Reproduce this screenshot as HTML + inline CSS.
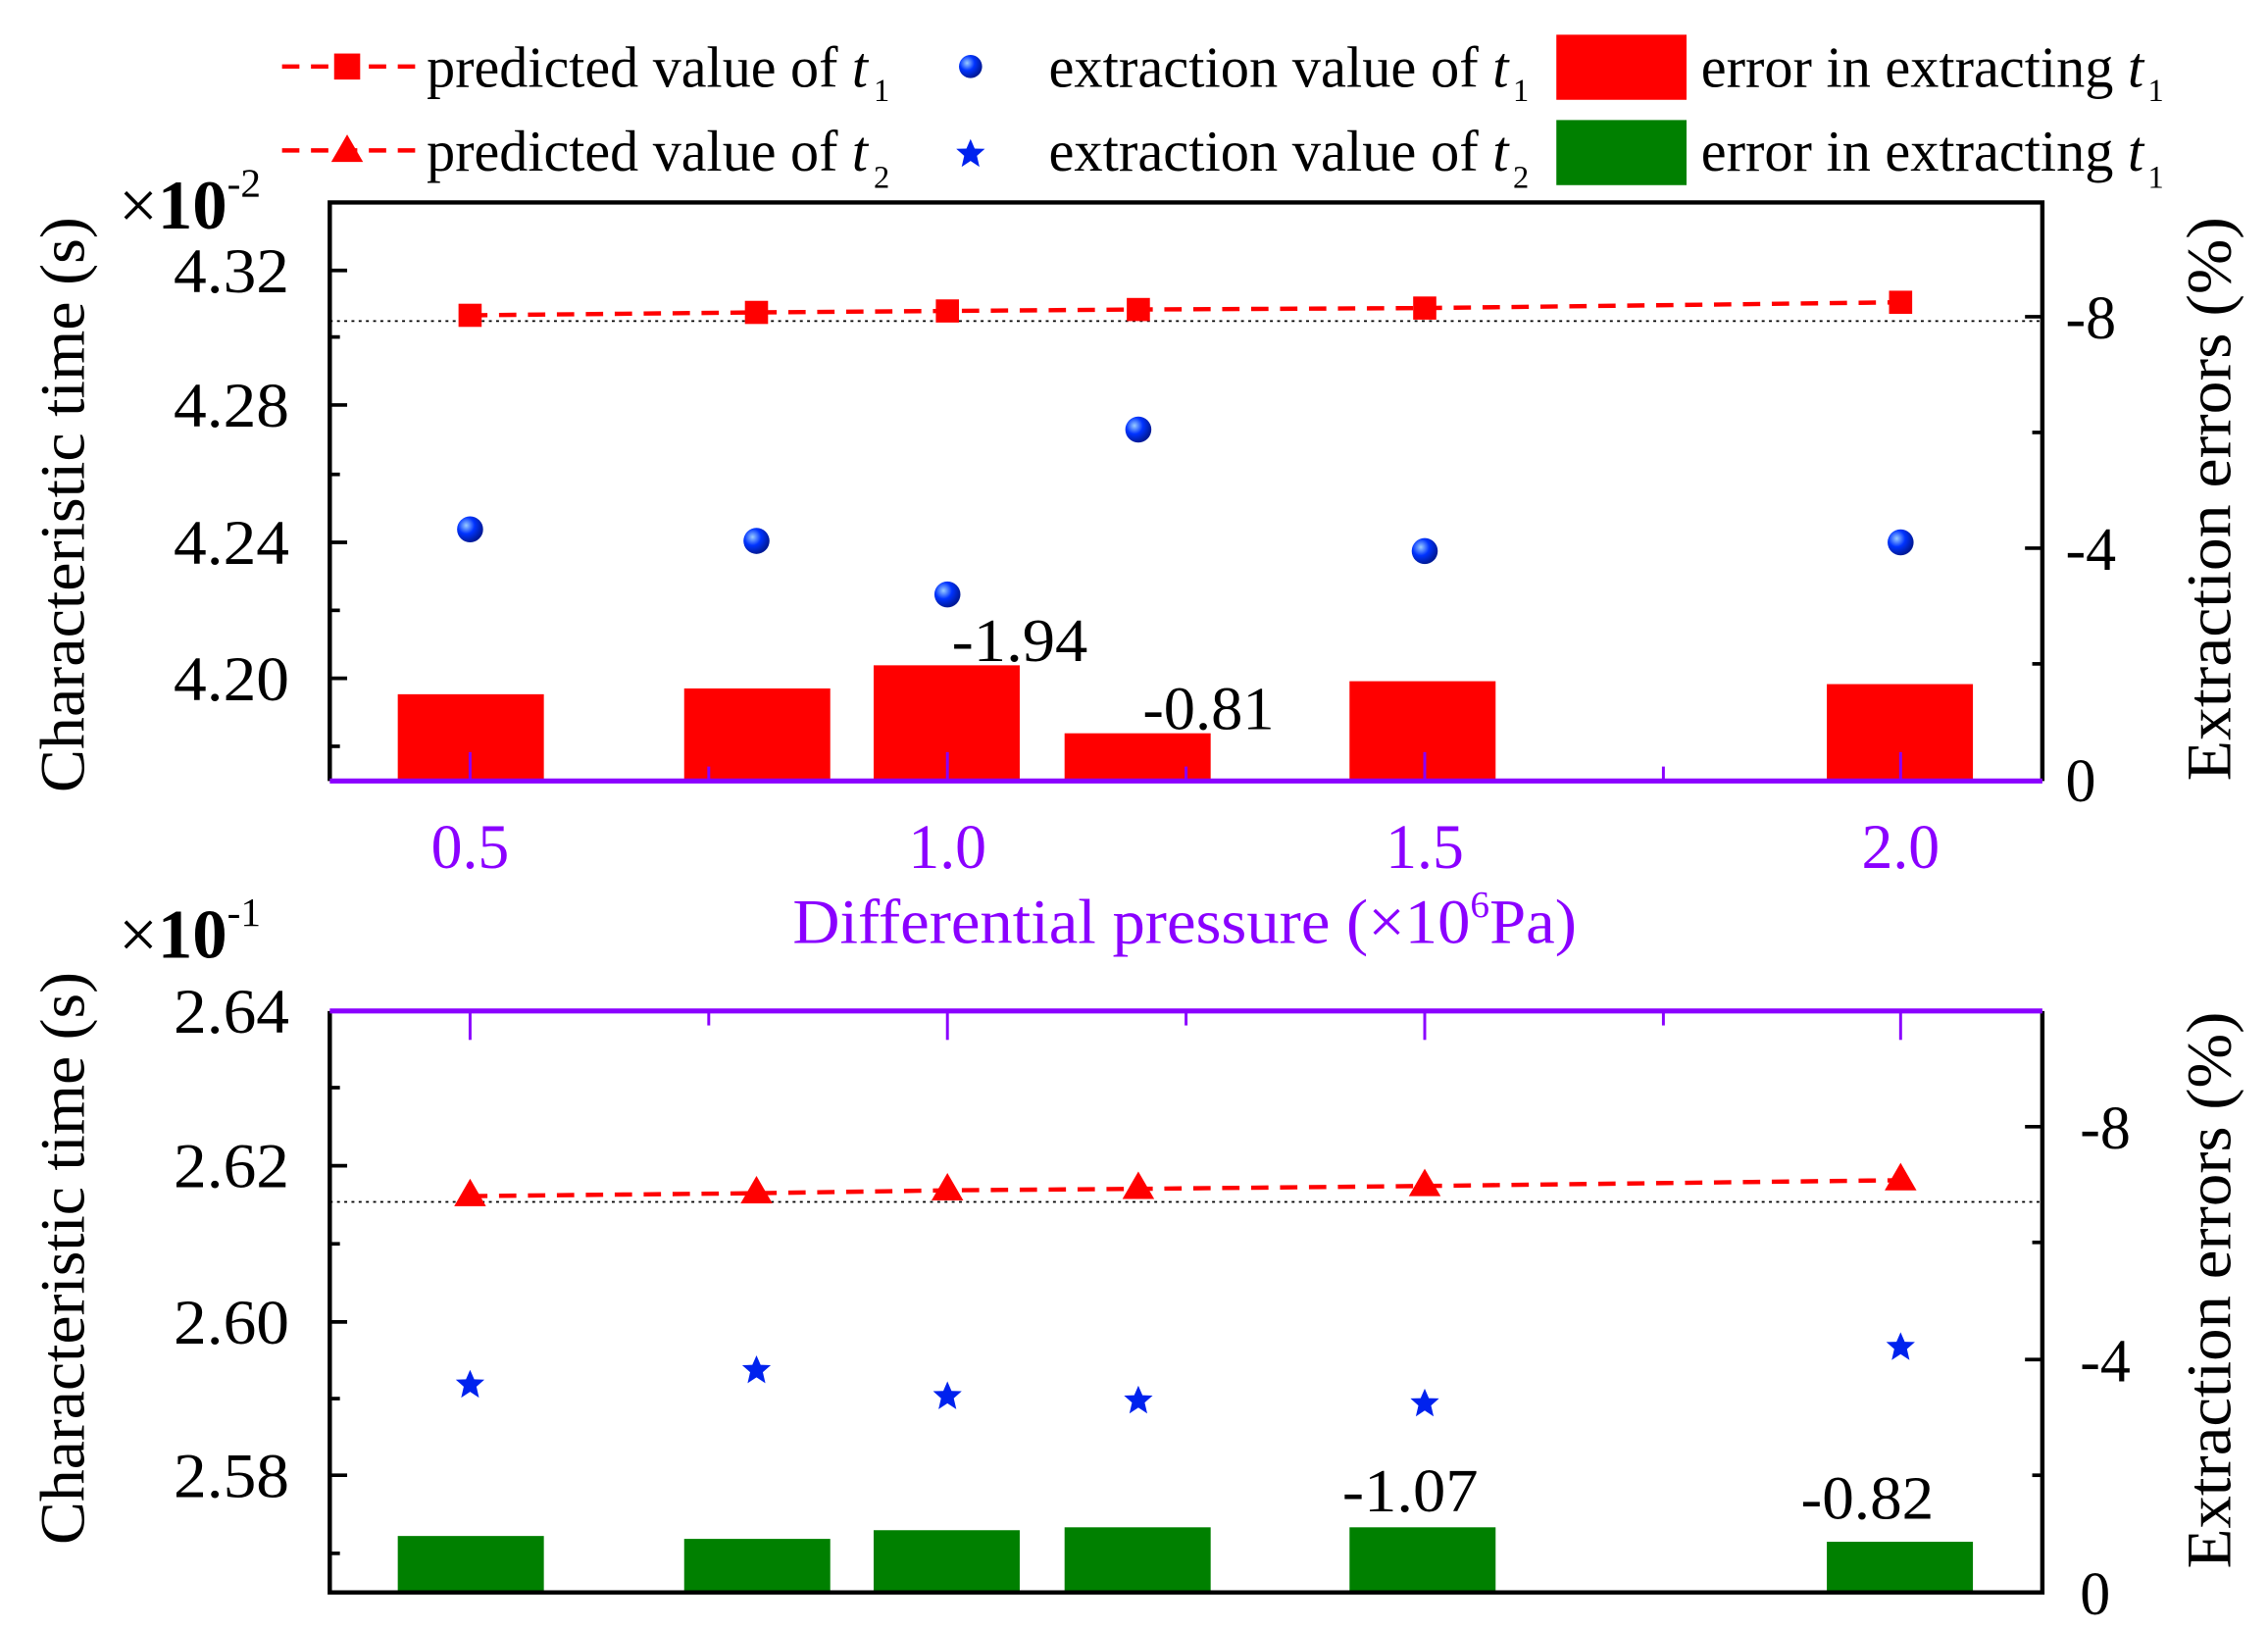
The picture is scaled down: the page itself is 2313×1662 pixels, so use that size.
<!DOCTYPE html>
<html><head><meta charset="utf-8"><style>
html,body{margin:0;padding:0;background:#fff;}
svg{display:block;}
text{font-family:"Liberation Serif",serif;}
</style></head><body>
<svg width="2313" height="1662" viewBox="0 0 1568 1127" preserveAspectRatio="none" xmlns="http://www.w3.org/2000/svg">
<defs>
<radialGradient id="g" cx="35%" cy="35%" r="65%"><stop offset="0" stop-color="#9cf"/><stop offset="0.5" stop-color="#0033ff"/><stop offset="1" stop-color="#001a99"/></radialGradient>
<symbol id="star" viewBox="-10 -10 20 20"><polygon points="0,-9 2.6,-3 9,-2.8 4,1.6 5.6,8.5 0,4.8 -5.6,8.5 -4,1.6 -9,-2.8 -2.6,-3" fill="#0022ee"/></symbol>
</defs>
<!-- Legend -->
<g font-size="40" fill="#000">
<line x1="195" y1="46" x2="288" y2="46" stroke="#f00" stroke-width="3" stroke-dasharray="12,8"/>
<rect x="231" y="37" width="18" height="18" fill="#f00"/>
<text x="295" y="60" textLength="305" lengthAdjust="spacingAndGlyphs">predicted value of <tspan font-style="italic">t</tspan></text>
<text x="604" y="70" font-size="22">1</text>
<circle cx="671" cy="46" r="8" fill="url(#g)"/>
<text x="725" y="60" textLength="318" lengthAdjust="spacingAndGlyphs">extraction value of <tspan font-style="italic">t</tspan></text>
<text x="1046" y="70" font-size="22">1</text>
<rect x="1076" y="24" width="90" height="45" fill="#f00"/>
<text x="1176" y="60" textLength="306" lengthAdjust="spacingAndGlyphs">error in extracting <tspan font-style="italic">t</tspan></text>
<text x="1485" y="70" font-size="22">1</text>
<line x1="195" y1="104" x2="288" y2="104" stroke="#f00" stroke-width="3" stroke-dasharray="12,8"/>
<polygon points="240,93 251,112 229,112" fill="#f00"/>
<text x="295" y="118" textLength="305" lengthAdjust="spacingAndGlyphs">predicted value of <tspan font-style="italic">t</tspan></text>
<text x="604" y="130" font-size="22">2</text>
<use href="#star" x="660" y="95" width="22" height="22"/>
<text x="725" y="118" textLength="318" lengthAdjust="spacingAndGlyphs">extraction value of <tspan font-style="italic">t</tspan></text>
<text x="1046" y="130" font-size="22">2</text>
<rect x="1076" y="83" width="90" height="45" fill="#008000"/>
<text x="1176" y="118" textLength="306" lengthAdjust="spacingAndGlyphs">error in extracting <tspan font-style="italic">t</tspan></text>
<text x="1485" y="130" font-size="22">1</text>
</g>

<!-- TOP PLOT -->
<g>
<rect x="275" y="480" width="101" height="60" fill="#f00"/>
<rect x="473" y="476" width="101" height="64" fill="#f00"/>
<rect x="604" y="460" width="101" height="80" fill="#f00"/>
<rect x="736" y="507" width="101" height="33" fill="#f00"/>
<rect x="933" y="471" width="101" height="69" fill="#f00"/>
<rect x="1263" y="473" width="101" height="67" fill="#f00"/>
<line x1="228" y1="222" x2="1412" y2="222" stroke="#000" stroke-width="1.2" stroke-dasharray="2,3"/>
<polyline points="325,218 523,216 655,215 787,214 985,213 1314,209" fill="none" stroke="#f00" stroke-width="3" stroke-dasharray="12,8"/>
<g fill="#f00">
<rect x="317" y="210" width="16" height="16"/><rect x="515" y="208" width="16" height="16"/><rect x="647" y="207" width="16" height="16"/><rect x="779" y="206" width="16" height="16"/><rect x="977" y="205" width="16" height="16"/><rect x="1306" y="201" width="16" height="16"/>
</g>
<g fill="url(#g)">
<circle cx="325" cy="366" r="9"/><circle cx="523" cy="374" r="9"/><circle cx="655" cy="411" r="9"/><circle cx="787" cy="297" r="9"/><circle cx="985" cy="381" r="9"/><circle cx="1314" cy="375" r="9"/>
</g>
<polyline points="228,540 228,140 1412,140 1412,540" fill="none" stroke="#000" stroke-width="3"/>
<line x1="228" y1="540" x2="1412" y2="540" stroke="#8a00ff" stroke-width="3.5"/>
<g stroke="#8a00ff" stroke-width="2">
<line x1="325" y1="540" x2="325" y2="520"/><line x1="490" y1="540" x2="490" y2="530"/><line x1="655" y1="540" x2="655" y2="520"/><line x1="820" y1="540" x2="820" y2="530"/><line x1="985" y1="540" x2="985" y2="520"/><line x1="1150" y1="540" x2="1150" y2="530"/><line x1="1314" y1="540" x2="1314" y2="520"/>
</g>
<g stroke="#000" stroke-width="2.5">
<line x1="228" y1="187" x2="240" y2="187"/><line x1="228" y1="280" x2="240" y2="280"/><line x1="228" y1="375" x2="240" y2="375"/><line x1="228" y1="469" x2="240" y2="469"/>
<line x1="228" y1="233" x2="235" y2="233"/><line x1="228" y1="328" x2="235" y2="328"/><line x1="228" y1="422" x2="235" y2="422"/><line x1="228" y1="516" x2="235" y2="516"/>
<line x1="1412" y1="219" x2="1400" y2="219"/><line x1="1412" y1="379" x2="1400" y2="379"/><line x1="1412" y1="299" x2="1405" y2="299"/><line x1="1412" y1="459" x2="1405" y2="459"/>
</g>
<g font-size="44" fill="#000">
<text x="120" y="202" textLength="80" lengthAdjust="spacingAndGlyphs">4.32</text>
<text x="120" y="295" textLength="80" lengthAdjust="spacingAndGlyphs">4.28</text>
<text x="120" y="390" textLength="80" lengthAdjust="spacingAndGlyphs">4.24</text>
<text x="120" y="484" textLength="80" lengthAdjust="spacingAndGlyphs">4.20</text>
</g>
<g font-size="42" fill="#000">
<text x="1428" y="234">-8</text><text x="1428" y="394">-4</text><text x="1428" y="554">0</text>
<text x="82" y="158" font-size="48">×<tspan font-weight="bold">10</tspan><tspan font-size="28" dy="-22">-2</tspan></text>
<text x="658" y="457" textLength="94" lengthAdjust="spacingAndGlyphs">-1.94</text>
<text x="790" y="504" textLength="91" lengthAdjust="spacingAndGlyphs">-0.81</text>
</g>
<g font-size="44" fill="#8a00ff">
<text x="298" y="600" textLength="54" lengthAdjust="spacingAndGlyphs">0.5</text>
<text x="628" y="600" textLength="54" lengthAdjust="spacingAndGlyphs">1.0</text>
<text x="958" y="600" textLength="54" lengthAdjust="spacingAndGlyphs">1.5</text>
<text x="1287" y="600" textLength="54" lengthAdjust="spacingAndGlyphs">2.0</text>
<text x="548" y="652" textLength="542" lengthAdjust="spacingAndGlyphs">Differential pressure (×10<tspan font-size="26" dy="-18">6</tspan><tspan dy="18">Pa)</tspan></text>
</g>
<text transform="translate(58,349) rotate(-90)" font-size="44" text-anchor="middle" textLength="398" lengthAdjust="spacingAndGlyphs">Characteristic time (s)</text>
<text transform="translate(1542,345) rotate(-90)" font-size="44" text-anchor="middle" textLength="390" lengthAdjust="spacingAndGlyphs">Extraction errors (%)</text>
</g>

<!-- BOTTOM PLOT -->
<g>
<rect x="275" y="1062" width="101" height="39" fill="#008000"/>
<rect x="473" y="1064" width="101" height="37" fill="#008000"/>
<rect x="604" y="1058" width="101" height="43" fill="#008000"/>
<rect x="736" y="1056" width="101" height="45" fill="#008000"/>
<rect x="933" y="1056" width="101" height="45" fill="#008000"/>
<rect x="1263" y="1066" width="101" height="35" fill="#008000"/>
<line x1="228" y1="831" x2="1412" y2="831" stroke="#000" stroke-width="1.2" stroke-dasharray="2,3"/>
<polyline points="325,827 523,825 655,823 787,822 985,820 1314,816" fill="none" stroke="#f00" stroke-width="3" stroke-dasharray="12,8"/>
<g fill="#f00">
<polygon points="325,815 336,834 314,834"/><polygon points="523,813 534,832 512,832"/><polygon points="655,811 666,830 644,830"/><polygon points="787,810 798,829 776,829"/><polygon points="985,808 996,827 974,827"/><polygon points="1314,804 1325,823 1303,823"/>
</g>
<use href="#star" x="314" y="946" width="22" height="22"/>
<use href="#star" x="512" y="936" width="22" height="22"/>
<use href="#star" x="644" y="954" width="22" height="22"/>
<use href="#star" x="776" y="957" width="22" height="22"/>
<use href="#star" x="974" y="959" width="22" height="22"/>
<use href="#star" x="1303" y="920" width="22" height="22"/>
<polyline points="228,699 228,1101 1412,1101 1412,699" fill="none" stroke="#000" stroke-width="3"/>
<line x1="228" y1="699" x2="1412" y2="699" stroke="#8a00ff" stroke-width="3.5"/>
<g stroke="#8a00ff" stroke-width="2">
<line x1="325" y1="699" x2="325" y2="719"/><line x1="490" y1="699" x2="490" y2="709"/><line x1="655" y1="699" x2="655" y2="719"/><line x1="820" y1="699" x2="820" y2="709"/><line x1="985" y1="699" x2="985" y2="719"/><line x1="1150" y1="699" x2="1150" y2="709"/><line x1="1314" y1="699" x2="1314" y2="719"/>
</g>
<g stroke="#000" stroke-width="2.5">
<line x1="228" y1="806" x2="240" y2="806"/><line x1="228" y1="914" x2="240" y2="914"/><line x1="228" y1="1020" x2="240" y2="1020"/>
<line x1="228" y1="752" x2="235" y2="752"/><line x1="228" y1="860" x2="235" y2="860"/><line x1="228" y1="967" x2="235" y2="967"/><line x1="228" y1="1074" x2="235" y2="1074"/>
<line x1="1412" y1="779" x2="1400" y2="779"/><line x1="1412" y1="940" x2="1400" y2="940"/><line x1="1412" y1="859" x2="1405" y2="859"/><line x1="1412" y1="1020" x2="1405" y2="1020"/>
</g>
<g font-size="44" fill="#000">
<text x="120" y="714" textLength="80" lengthAdjust="spacingAndGlyphs">2.64</text>
<text x="120" y="821" textLength="80" lengthAdjust="spacingAndGlyphs">2.62</text>
<text x="120" y="929" textLength="80" lengthAdjust="spacingAndGlyphs">2.60</text>
<text x="120" y="1035" textLength="80" lengthAdjust="spacingAndGlyphs">2.58</text>
</g>
<g font-size="42" fill="#000">
<text x="1438" y="794">-8</text><text x="1438" y="955">-4</text><text x="1438" y="1116">0</text>
<text x="82" y="662" font-size="48">×<tspan font-weight="bold">10</tspan><tspan font-size="28" dy="-22">-1</tspan></text>
<text x="928" y="1045" textLength="94" lengthAdjust="spacingAndGlyphs">-1.07</text>
<text x="1245" y="1050" textLength="92" lengthAdjust="spacingAndGlyphs">-0.82</text>
</g>
<text transform="translate(58,870) rotate(-90)" font-size="44" text-anchor="middle" textLength="396" lengthAdjust="spacingAndGlyphs">Characteristic time (s)</text>
<text transform="translate(1542,892) rotate(-90)" font-size="44" text-anchor="middle" textLength="385" lengthAdjust="spacingAndGlyphs">Extraction errors (%)</text>
</g>
</svg>
</body></html>
